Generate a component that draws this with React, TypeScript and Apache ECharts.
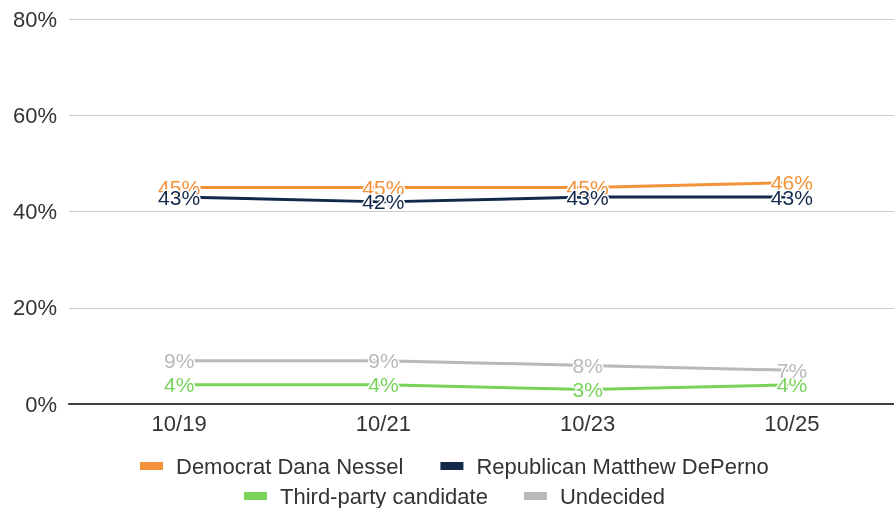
import React, { useEffect, useRef } from "react";
import * as echarts from "echarts";

const categories = ["10/19", "10/21", "10/23", "10/25"];
const democrat = [45, 45, 45, 46];
const republican = [43, 42, 43, 43];
const thirdParty = [4, 4, 3, 4];
const undecided = [9, 9, 8, 7];
const seriesNames = [
  "Democrat Dana Nessel",
  "Republican Matthew DePerno",
  "Third-party candidate",
  "Undecided",
];
const colors = ["#F4923A", "#13294B", "#79D35A", "#B9B9B9"];

const FONT = "'Liberation Sans', Arial, sans-serif";

export default function App() {
  const ref = useRef<HTMLDivElement>(null);
  useEffect(() => {
    if (!ref.current) return;
    const chart = echarts.init(ref.current, null, { renderer: "svg" });
    const values = [democrat, republican, thirdParty, undecided];
    const series = values.map((v, i) => ({
      name: seriesNames[i],
      type: "line",
      xAxisIndex: 1,
      yAxisIndex: 1,
      data: v,
      symbol: "circle",
      symbolSize: 1,
      lineStyle: { color: colors[i], width: 3 },
      itemStyle: { color: colors[i] },
      label: {
        show: true,
        position: "inside",
        formatter: "{c}%",
        color: colors[i],
        fontSize: 21,
        fontFamily: FONT,
        textBorderColor: "#fff",
        textBorderWidth: 3,
      },
      emphasis: { disabled: true },
    }));
    const legendText = {
      fontSize: 22,
      color: "#333",
      fontFamily: FONT,
      padding: [0, 0, 0, 8],
    };
    chart.setOption({
      animation: false,
      textStyle: { fontFamily: FONT },
      grid: [
        { left: 69, right: 0, top: 19, bottom: 104 },
        { left: 77, right: -6, top: 19, bottom: 104 },
      ],
      xAxis: [
        {
          gridIndex: 0,
          type: "category",
          data: categories,
          axisLine: { lineStyle: { color: "#404040", width: 2 } },
          axisTick: { show: false },
          axisLabel: { show: false },
        },
        {
          gridIndex: 1,
          type: "category",
          data: categories,
          axisLine: { show: false },
          axisTick: { show: false },
          axisLabel: {
            fontSize: 22,
            color: "#333",
            margin: 8,
            fontFamily: FONT,
          },
        },
      ],
      yAxis: [
        {
          gridIndex: 0,
          type: "value",
          min: 0,
          max: 80,
          interval: 20,
          axisLine: { show: false },
          axisTick: { show: false },
          axisLabel: {
            formatter: "{value}%",
            fontSize: 22,
            color: "#333",
            margin: 12,
            fontFamily: FONT,
          },
          splitLine: { lineStyle: { color: "#cccccc", width: 1 } },
        },
        {
          gridIndex: 1,
          type: "value",
          min: 0,
          max: 80,
          interval: 20,
          show: false,
          splitLine: { show: false },
        },
      ],
      legend: [
        {
          data: seriesNames.slice(0, 2),
          left: 140,
          top: 455,
          padding: 0,
          icon: "rect",
          itemWidth: 23,
          itemHeight: 8,
          itemGap: 37,
          textStyle: legendText,
        },
        {
          data: seriesNames.slice(2, 4),
          left: 244,
          top: 485,
          padding: 0,
          icon: "rect",
          itemWidth: 23,
          itemHeight: 8,
          itemGap: 36,
          textStyle: legendText,
        },
      ],
      series,
    });
    return () => chart.dispose();
  }, []);
  return (
    <div
      ref={ref}
      style={{ position: "fixed", left: 0, top: 0, width: 894, height: 508 }}
    />
  );
}
